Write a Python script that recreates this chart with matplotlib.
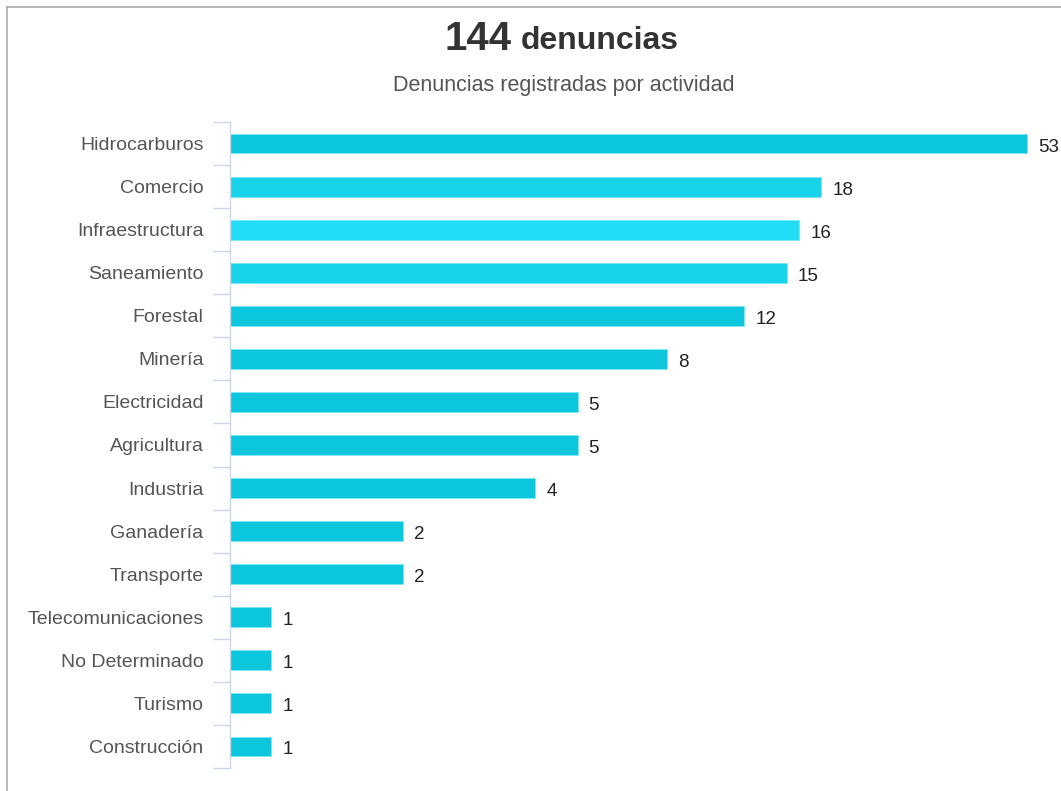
import numpy as np
import matplotlib.pyplot as plt
from matplotlib.lines import Line2D

plt.rcParams['font.family'] = ['Liberation Sans', 'DejaVu Sans']

# datos
actividades = ['Hidrocarburos', 'Comercio', 'Infraestructura', 'Saneamiento', 'Forestal',
               'Minería', 'Electricidad', 'Agricultura', 'Industria', 'Ganadería',
               'Transporte', 'Telecomunicaciones', 'No Determinado', 'Turismo', 'Construcción']
denuncias = [53, 18, 16, 15, 12, 8, 5, 5, 4, 2, 2, 1, 1, 1, 1]
colores = ['#0cc6de', '#19d3eb', '#22ddf5', '#19d3eb'] + ['#0cc6de'] * 11

fig = plt.figure(figsize=(10.61, 7.91), dpi=100)
ax = fig.add_axes([230 / 1061, 1 - 768 / 791, (1041 - 230) / 1061, (768 - 122) / 791])

y = np.arange(len(actividades))
ax.set_xscale('log')
ax.barh(y, denuncias, height=0.46, color=colores, edgecolor='#7fe6f2', linewidth=0.6)
ax.set_xlim(0.806, 57)
ax.set_ylim(len(actividades) - 0.5, -0.5)

for i, v in enumerate(denuncias):
    ax.annotate(str(v), (v, i), xytext=(8, -2.5), textcoords='offset points',
                va='center', ha='left', fontsize=13.5, color='#222222')

ax.set_yticks(y)
ax.set_yticklabels(actividades, fontsize=14, color='#555555')
ax.set_yticks(np.arange(len(actividades) + 1) - 0.5, minor=True)
ax.tick_params(axis='y', which='major', length=0, pad=19)
ax.tick_params(axis='y', which='minor', length=12, width=1, color='#ccd6eb')
ax.set_xticks([])
ax.set_xticks([], minor=True)
for s in ['top', 'right', 'bottom']:
    ax.spines[s].set_visible(False)
ax.spines['left'].set_color('#ccd6eb')
ax.spines['left'].set_linewidth(1)

# titulo
fig.text(512 / 1061, 1 - 39 / 791, '144', fontsize=29, fontweight='bold', color='#333333',
         ha='right', va='center')
fig.text(521 / 1061, 1 - 41 / 791, 'denuncias', fontsize=23, fontweight='bold', color='#333333',
         ha='left', va='center')
fig.text(564 / 1061, 1 - 86 / 791, 'Denuncias registradas por actividad', fontsize=15.5,
         color='#555555', ha='center', va='center')

# borde
fig.add_artist(Line2D([7 / 1061, 7 / 1061], [0, 1 - 7 / 791], color='#aaaaaa', lw=1.2))
fig.add_artist(Line2D([7 / 1061, 1], [1 - 7 / 791, 1 - 7 / 791], color='#aaaaaa', lw=1.2))

fig.savefig('out.png', dpi=100)
